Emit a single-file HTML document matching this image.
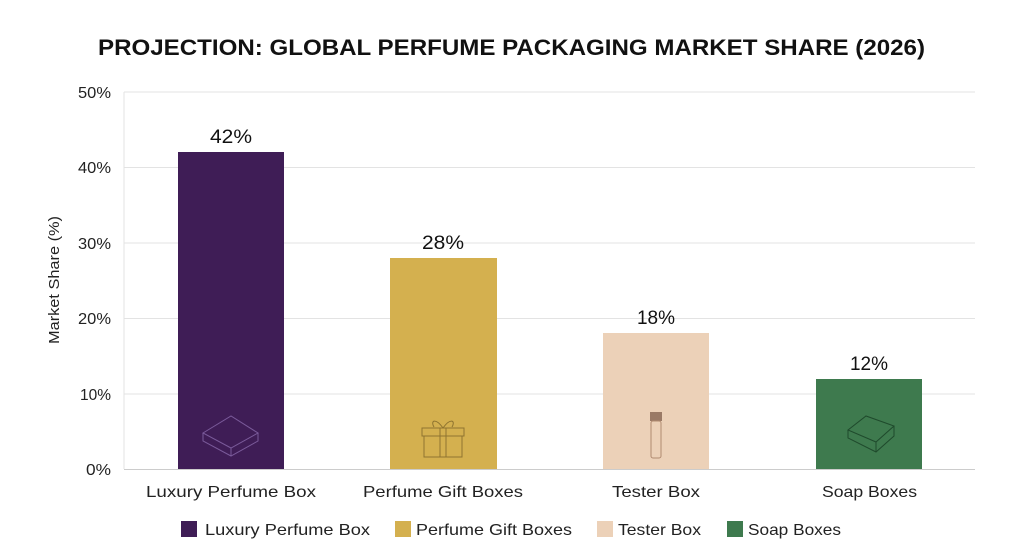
<!DOCTYPE html>
<html><head><meta charset="utf-8"><style>
html,body{margin:0;padding:0;background:#fff;}
svg{display:block;font-family:"Liberation Sans",sans-serif;}
</style></head><body>
<svg width="1024" height="559" viewBox="0 0 1024 559" xmlns="http://www.w3.org/2000/svg">
<rect width="1024" height="559" fill="#fff"/>
<text x="98" y="55" textLength="827" lengthAdjust="spacingAndGlyphs" font-size="22" font-weight="bold" fill="#111">PROJECTION: GLOBAL PERFUME PACKAGING MARKET SHARE (2026)</text>
<g stroke="#e3e3e3" stroke-width="1">
<line x1="124" y1="92" x2="975" y2="92"/>
<line x1="124" y1="167.5" x2="975" y2="167.5"/>
<line x1="124" y1="243" x2="975" y2="243"/>
<line x1="124" y1="318.5" x2="975" y2="318.5"/>
<line x1="124" y1="394" x2="975" y2="394"/>
<line x1="124" y1="92" x2="124" y2="469"/>
</g>
<line x1="124" y1="469.5" x2="975" y2="469.5" stroke="#ccc"/>
<g font-size="16" fill="#222" text-anchor="end">
<text x="111" y="98" textLength="33" lengthAdjust="spacingAndGlyphs">50%</text>
<text x="111" y="173" textLength="33" lengthAdjust="spacingAndGlyphs">40%</text>
<text x="111" y="249" textLength="33" lengthAdjust="spacingAndGlyphs">30%</text>
<text x="111" y="324" textLength="33" lengthAdjust="spacingAndGlyphs">20%</text>
<text x="111" y="400" textLength="31" lengthAdjust="spacingAndGlyphs">10%</text>
<text x="111" y="475" textLength="25" lengthAdjust="spacingAndGlyphs">0%</text>
</g>
<text transform="translate(59,280) rotate(-90)" text-anchor="middle" font-size="15" fill="#222" textLength="128" lengthAdjust="spacingAndGlyphs">Market Share (%)</text>
<rect x="178" y="152" width="106" height="317" fill="#3f1d56"/>
<rect x="390" y="258" width="107" height="211" fill="#d4b04f"/>
<rect x="603" y="333" width="106" height="136" fill="#ecd1b8"/>
<rect x="816" y="379" width="106" height="90" fill="#3e7a4e"/>
<g font-size="19" fill="#111" text-anchor="middle">
<text x="231" y="143" textLength="42" lengthAdjust="spacingAndGlyphs">42%</text>
<text x="443" y="249" textLength="42" lengthAdjust="spacingAndGlyphs">28%</text>
<text x="656" y="324" textLength="38" lengthAdjust="spacingAndGlyphs">18%</text>
<text x="869" y="370" textLength="38" lengthAdjust="spacingAndGlyphs">12%</text>
</g>
<g fill="none" stroke="#7a5a9a" stroke-width="1">
<path d="M203 433 L231 416 L258 433 L231 448 Z"/>
<path d="M203 433 V441 L231 456 L258 441 V433"/>
<path d="M231 448 V456"/>
</g>
<g fill="none" stroke="#8f7430" stroke-width="1">
<rect x="422" y="428" width="42" height="8"/>
<rect x="424" y="436" width="38" height="21"/>
<path d="M440 428 V457 M446 428 V457"/>
<path d="M443 428 C436 418 430 420 434 427 M443 428 C450 418 456 420 452 427"/>
</g>
<g fill="none" stroke="#b08a70" stroke-width="1">
<rect x="650" y="412" width="12" height="9" fill="#9a7a66" stroke="none"/>
<rect x="651" y="421" width="10" height="37" rx="2"/>
</g>
<g fill="none" stroke="#1f4a2c" stroke-width="1">
<path d="M848 430 L866 416 L894 426 L876 442 Z"/>
<path d="M848 430 V438 L876 452 L894 436 V426"/>
<path d="M876 442 V452"/>
</g>
<g font-size="16" fill="#222">
<text x="146" y="497" textLength="170" lengthAdjust="spacingAndGlyphs">Luxury Perfume Box</text>
<text x="363" y="497" textLength="160" lengthAdjust="spacingAndGlyphs">Perfume Gift Boxes</text>
<text x="612" y="497" textLength="88" lengthAdjust="spacingAndGlyphs">Tester Box</text>
<text x="822" y="497" textLength="95" lengthAdjust="spacingAndGlyphs">Soap Boxes</text>
</g>
<g font-size="16" fill="#222">
<rect x="181" y="521" width="16" height="16" fill="#3f1d56"/>
<text x="205" y="535" textLength="165" lengthAdjust="spacingAndGlyphs">Luxury Perfume Box</text>
<rect x="395" y="521" width="16" height="16" fill="#d4b04f"/>
<text x="416" y="535" textLength="156" lengthAdjust="spacingAndGlyphs">Perfume Gift Boxes</text>
<rect x="597" y="521" width="16" height="16" fill="#ecd1b8"/>
<text x="618" y="535" textLength="83" lengthAdjust="spacingAndGlyphs">Tester Box</text>
<rect x="727" y="521" width="16" height="16" fill="#3e7a4e"/>
<text x="748" y="535" textLength="93" lengthAdjust="spacingAndGlyphs">Soap Boxes</text>
</g>
</svg>
</body></html>
